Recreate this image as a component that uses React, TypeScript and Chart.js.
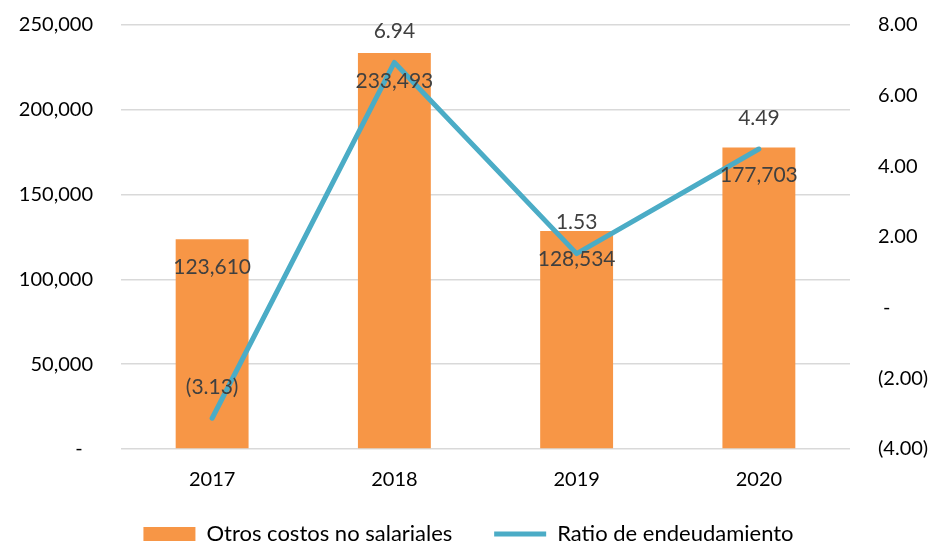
import React, { useEffect, useRef } from "react";
import { Chart, registerables } from "chart.js";

Chart.register(...registerables);

const categories = ["2017", "2018", "2019", "2020"];
const costValues = [123610, 233493, 128534, 177703];
const ratioValues = [-3.13, 6.94, 1.53, 4.49];
const costLabel = "Otros costos no salariales";
const ratioLabel = "Ratio de endeudamiento";

const FONT = "Lato";
const fmtCost = (v: number) => (v === 0 ? "-  " : v.toLocaleString("en-US"));
const fmtRatio = (v: number) =>
  v === 0 ? " -" : v < 0 ? `(${Math.abs(v).toFixed(2)})` : v.toFixed(2);

const labelPlugin = {
  id: "valueLabels",
  afterInit(chart: any) {
    const lg = chart.legend;
    if (lg) {
      const orig = lg.fit;
      lg.fit = function () {
        orig.call(this);
        this.height = 27;
      };
    }
  },
  afterDatasetsDraw(chart: any) {
    const ctx = chart.ctx;
    ctx.save();
    ctx.font = `21px ${FONT}`;
    ctx.fillStyle = "#404040";
    ctx.textAlign = "center";
    ctx.textBaseline = "middle";
    const barMeta = chart.getDatasetMeta(0);
    barMeta.data.forEach((el: any, i: number) => {
      ctx.fillText(fmtCost(costValues[i]), el.x, el.y + 28);
    });
    const lineMeta = chart.getDatasetMeta(1);
    lineMeta.data.forEach((el: any, i: number) => {
      ctx.fillText(fmtRatio(ratioValues[i]), el.x, el.y - 31);
    });
    ctx.restore();
  },
};

const fitY = (w: number) => (s: any) => {
  s.width = w;
  s.paddingTop = 12;
  s.paddingBottom = 12;
};

export default function App() {
  const ref = useRef<HTMLCanvasElement>(null);
  useEffect(() => {
    document.body.style.margin = "0";
    const chart = new Chart(ref.current!, {
      type: "bar",
      data: {
        labels: categories,
        datasets: [
          {
            type: "bar",
            label: costLabel,
            data: costValues,
            backgroundColor: "#F79646",
            borderWidth: 0,
            barPercentage: 0.4,
            categoryPercentage: 1,
            yAxisID: "y",
            order: 1,
            pointStyle: "rect",
          } as any,
          {
            type: "line",
            label: ratioLabel,
            data: ratioValues,
            borderColor: "#4BACC6",
            backgroundColor: "#4BACC6",
            borderWidth: 5,
            borderCapStyle: "round",
            borderJoinStyle: "round",
            pointRadius: 0,
            tension: 0,
            yAxisID: "y1",
            order: 0,
            pointStyle: "line",
          } as any,
        ],
      },
      options: {
        animation: false,
        responsive: false,
        maintainAspectRatio: false,
        layout: { padding: { top: 25, bottom: 0, left: 0, right: 0 } },
        plugins: {
          tooltip: { enabled: false },
          legend: {
            position: "bottom",
            labels: {
              usePointStyle: true,
              pointStyleWidth: 52,
              boxHeight: 14,
              padding: 8,
              color: "#000000",
              font: { family: FONT, size: 22 },
              sort: (a: any, b: any) => a.datasetIndex - b.datasetIndex,
              generateLabels: (c: any) => {
                const items = (Chart.defaults.plugins.legend.labels as any).generateLabels(c);
                items.forEach((it: any) => {
                  if (it.datasetIndex === 0) it.text = it.text + "      ";
                });
                return items;
              },
            },
          },
        },
        scales: {
          x: {
            grid: { display: false, drawTicks: false },
            border: { display: false },
            ticks: { color: "#000000", font: { family: FONT, size: 20 }, padding: 19 },
            afterFit: (s: any) => {
              s.height = 66;
            },
          },
          y: {
            position: "left",
            min: 0,
            max: 250000,
            border: { display: false },
            grid: { color: "#D9D9D9", lineWidth: 1.5, drawTicks: false },
            ticks: {
              stepSize: 50000,
              color: "#000000",
              font: { family: FONT, size: 20 },
              padding: 28,
              callback: (v: any) => fmtCost(Number(v)),
            },
            afterFit: fitY(121),
          },
          y1: {
            position: "right",
            min: -4,
            max: 8,
            border: { display: false },
            grid: { display: false, drawTicks: false },
            ticks: {
              stepSize: 2,
              color: "#000000",
              font: { family: FONT, size: 20 },
              padding: 28,
              callback: (v: any) => fmtRatio(Number(v)),
            },
            afterFit: fitY(87),
          },
        },
      } as any,
      plugins: [labelPlugin],
    });
    return () => chart.destroy();
  }, []);
  return (
    <div style={{ width: 937, height: 542 }}>
      <canvas ref={ref} width={937} height={542} style={{ display: "block" }} />
    </div>
  );
}
